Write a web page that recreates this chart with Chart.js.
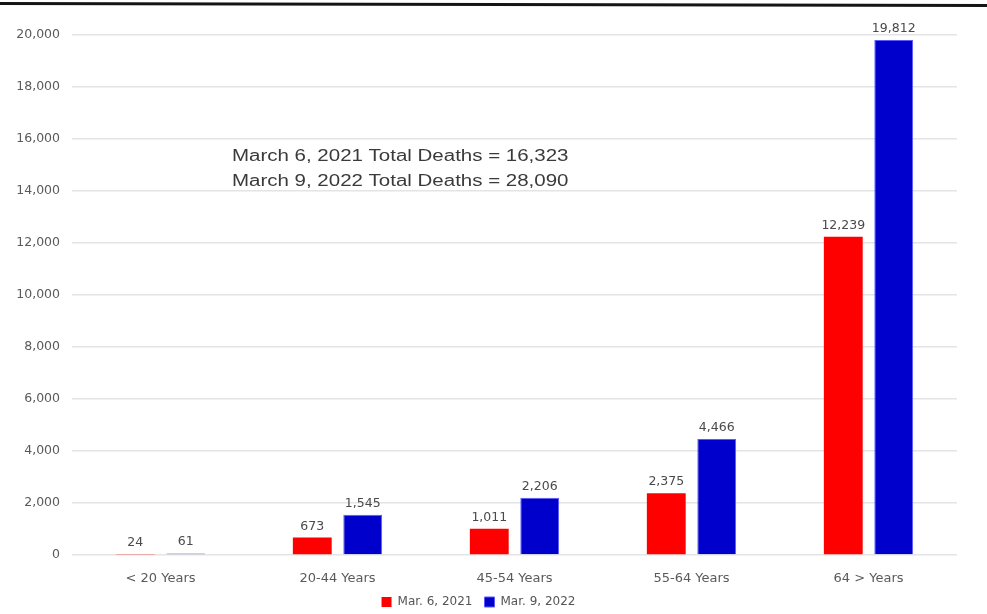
<!DOCTYPE html>
<html>
<head>
<meta charset="utf-8">
<script src="https://cdn.jsdelivr.net/npm/chart.js@4"></script>
<style>
  html, body { margin: 0; padding: 0; background: #fff; }
  #wrap { position: relative; width: 987px; height: 614px; overflow: hidden; }
  #topline { position: absolute; left: -10px; top: 2px; width: 1010px; height: 3px; background: #151515; transform: rotate(0.12deg); transform-origin: left center; }
  canvas { position: absolute; left: 0; top: 0; }
</style>
</head>
<body>
<div id="wrap">
  <canvas id="c" width="987" height="614"></canvas>
  <div id="topline"></div>
</div>
<script>
const categories = ['< 20 Years', '20-44 Years', '45-54 Years', '55-64 Years', '64 > Years'];
const seriesNames = ['Mar. 6, 2021', 'Mar. 9, 2022'];
const deaths2021 = [24, 673, 1011, 2375, 12239];
const deaths2022 = [61, 1545, 2206, 4466, 19812];
const annotationLines = ['March 6, 2021 Total Deaths = 16,323', 'March 9, 2022 Total Deaths = 28,090'];

const fmt = v => v.toLocaleString('en-US');
const FONT = '"DejaVu Sans", "Open Sans", sans-serif';

const valueLabels = {
  id: 'valueLabels',
  afterDatasetsDraw(chart) {
    const ctx = chart.ctx;
    ctx.save();
    ctx.font = '12.5px ' + FONT;
    ctx.fillStyle = '#4a4a4a';
    ctx.textAlign = 'center';
    ctx.textBaseline = 'bottom';
    chart.data.datasets.forEach((ds, i) => {
      const meta = chart.getDatasetMeta(i);
      meta.data.forEach((bar, j) => {
        ctx.fillText(fmt(ds.data[j]), bar.x, bar.y - 5);
      });
    });
    ctx.restore();
  }
};

const annotation = {
  id: 'annotation',
  afterDraw(chart) {
    const ctx = chart.ctx;
    ctx.save();
    ctx.font = '16px "Liberation Sans", Arial, sans-serif';
    ctx.fillStyle = '#3a3a3a';
    ctx.textAlign = 'left';
    ctx.textBaseline = 'middle';
    ctx.translate(232, 0);
    ctx.scale(1.28, 1);
    ctx.fillText(annotationLines[0], 0, 157);
    ctx.fillText(annotationLines[1], 0, 182);
    ctx.restore();
  }
};

new Chart(document.getElementById('c'), {
  type: 'bar',
  data: {
    labels: categories,
    datasets: [
      { label: seriesNames[0], data: deaths2021, backgroundColor: '#ff0000', borderColor: '#ff6060', borderWidth: 0 },
      { label: seriesNames[1], data: deaths2022, backgroundColor: '#0000cc', borderColor: '#5a5aff', borderWidth: 1 }
    ]
  },
  options: {
    responsive: false,
    animation: false,
    devicePixelRatio: 1,
    layout: { padding: { top: 35, right: 30, left: 0, bottom: -4 } },
    datasets: { bar: { categoryPercentage: 0.57, barPercentage: 0.77 } },
    plugins: {
      legend: {
        position: 'bottom',
        labels: {
          boxWidth: 10, boxHeight: 10, padding: 12,
          color: '#555',
          font: { family: FONT, size: 12 }
        }
      },
      tooltip: { enabled: false }
    },
    scales: {
      x: {
        grid: { display: false },
        border: { display: false },
        ticks: { color: '#5a5a5a', padding: 8, font: { family: FONT, size: 13 } },
        afterFit(s) { s.height = 29; }
      },
      y: {
        min: 0, max: 20000,
        ticks: { stepSize: 2000, padding: 12, color: '#5a5a5a', font: { family: FONT, size: 12.5 }, callback: v => fmt(v) },
        grid: { color: '#e4e4e4', drawTicks: false, lineWidth: 1.5 },
        border: { display: false },
        afterFit(s) { s.width = 72; }
      }
    }
  },
  plugins: [valueLabels, annotation]
});
</script>
</body>
</html>
